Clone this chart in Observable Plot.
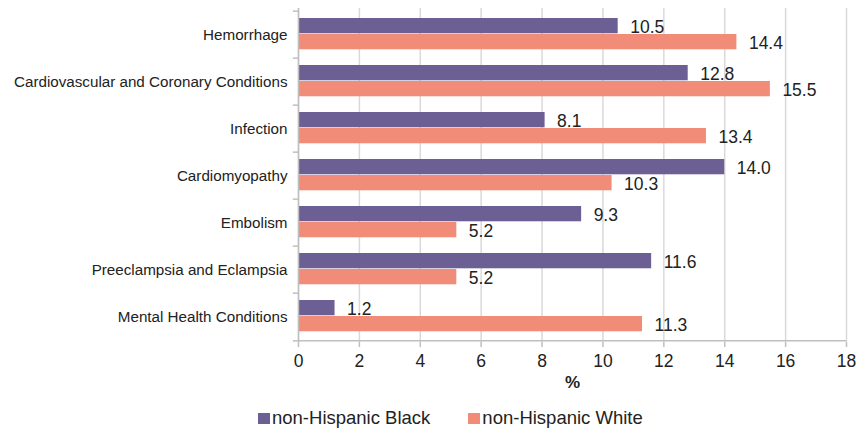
<!DOCTYPE html>
<html>
<head>
<meta charset="utf-8">
<script src="https://cdn.jsdelivr.net/npm/d3@7"></script>
<script src="https://cdn.jsdelivr.net/npm/@observablehq/plot@0.6"></script>
<style>
  html, body { margin: 0; padding: 0; background: #fff; }
  body { width: 867px; height: 434px; overflow: hidden; font-family: "Liberation Sans", Arial, sans-serif; }
  #chart svg { display: block; }
  #legend { display: flex; align-items: center; height: 36px; padding-left: 258px; font-size: 18.5px; color: #222; }
  .item { display: flex; align-items: center; }
  .sw { width: 12px; height: 11px; margin-right: 2px; }
</style>
</head>
<body>
<div id="chart"></div>
<div id="legend"></div>
<script>
const categories = [
  "Hemorrhage",
  "Cardiovascular and Coronary Conditions",
  "Infection",
  "Cardiomyopathy",
  "Embolism",
  "Preeclampsia and Eclampsia",
  "Mental Health Conditions"
];
const seriesNames = ["non-Hispanic Black", "non-Hispanic White"];
const blackValues = [10.5, 12.8, 8.1, 14.0, 9.3, 11.6, 1.2];
const whiteValues = [14.4, 15.5, 13.4, 10.3, 5.2, 5.2, 11.3];
const xTicks = [0, 2, 4, 6, 8, 10, 12, 14, 16, 18];
const colors = ["#6b5f93", "#f08c78"];

const blackData = categories.map((c, i) => ({category: c, value: blackValues[i]}));
const whiteData = categories.map((c, i) => ({category: c, value: whiteValues[i]}));

const W = 867, H = 400;
const mTop = 8, mBottom = 58, mLeft = 298, mRight = 21;
const bw = (H - mTop - mBottom) / categories.length;
const barH = 16, gapTop = 7;

const chart = Plot.plot({
  width: W,
  height: H,
  marginTop: mTop,
  marginBottom: mBottom,
  marginLeft: mLeft,
  marginRight: mRight,
  style: {fontFamily: "Liberation Sans, Arial, sans-serif", background: "#fff", color: "#222"},
  x: {domain: [0, 18], ticks: xTicks},
  y: {domain: categories, padding: 0},
  marks: [
    Plot.gridX(xTicks, {stroke: "#d9d9d9", strokeOpacity: 1, strokeWidth: 1.5}),
    Plot.barX(blackData, {x: "value", y: "category", fill: colors[0], insetTop: gapTop, insetBottom: bw - gapTop - barH}),
    Plot.barX(whiteData, {x: "value", y: "category", fill: colors[1], insetTop: gapTop + barH, insetBottom: bw - gapTop - 2 * barH}),
    Plot.text(blackData, {x: "value", y: "category", text: d => d.value.toFixed(1), dx: 12, dy: -bw / 2 + gapTop + barH / 2 + 1.5, textAnchor: "start", fontSize: 17.5, fill: "#222"}),
    Plot.text(whiteData, {x: "value", y: "category", text: d => d.value.toFixed(1), dx: 12, dy: -bw / 2 + gapTop + 1.5 * barH + 1.5, textAnchor: "start", fontSize: 17.5, fill: "#222"}),
    Plot.ruleX([0], {stroke: "#bfbfbf", strokeWidth: 1.5}),
    Plot.ruleY([categories[categories.length - 1]], {dy: bw / 2, stroke: "#bfbfbf", strokeWidth: 1.5}),
    Plot.ruleY(categories, {x1: -0.17, x2: 0, dy: -bw / 2, stroke: "#bfbfbf", strokeWidth: 1.5}),
    Plot.ruleY([categories[categories.length - 1]], {x1: -0.17, x2: 0, dy: bw / 2, stroke: "#bfbfbf", strokeWidth: 1.5}),
    Plot.axisY({tickSize: 0, tickPadding: 11, fontSize: 15.2, label: null, fill: "#222"}),
    Plot.axisX(xTicks, {tickSize: 5, tickPadding: 7, fontSize: 17.5, stroke: "#bfbfbf", strokeWidth: 1.5, label: null, fill: "#222"}),
    Plot.text(["%"], {frameAnchor: "bottom", dy: 45, fontSize: 17, fontWeight: "bold", fill: "#222"})
  ]
});
document.getElementById("chart").appendChild(chart);

const legend = document.getElementById("legend");
seriesNames.forEach((name, i) => {
  const item = document.createElement("div");
  item.className = "item";
  if (i > 0) item.style.marginLeft = "38px";
  const sw = document.createElement("div");
  sw.className = "sw";
  sw.style.background = colors[i];
  const label = document.createElement("span");
  label.textContent = name;
  item.appendChild(sw);
  item.appendChild(label);
  legend.appendChild(item);
});
</script>
</body>
</html>
